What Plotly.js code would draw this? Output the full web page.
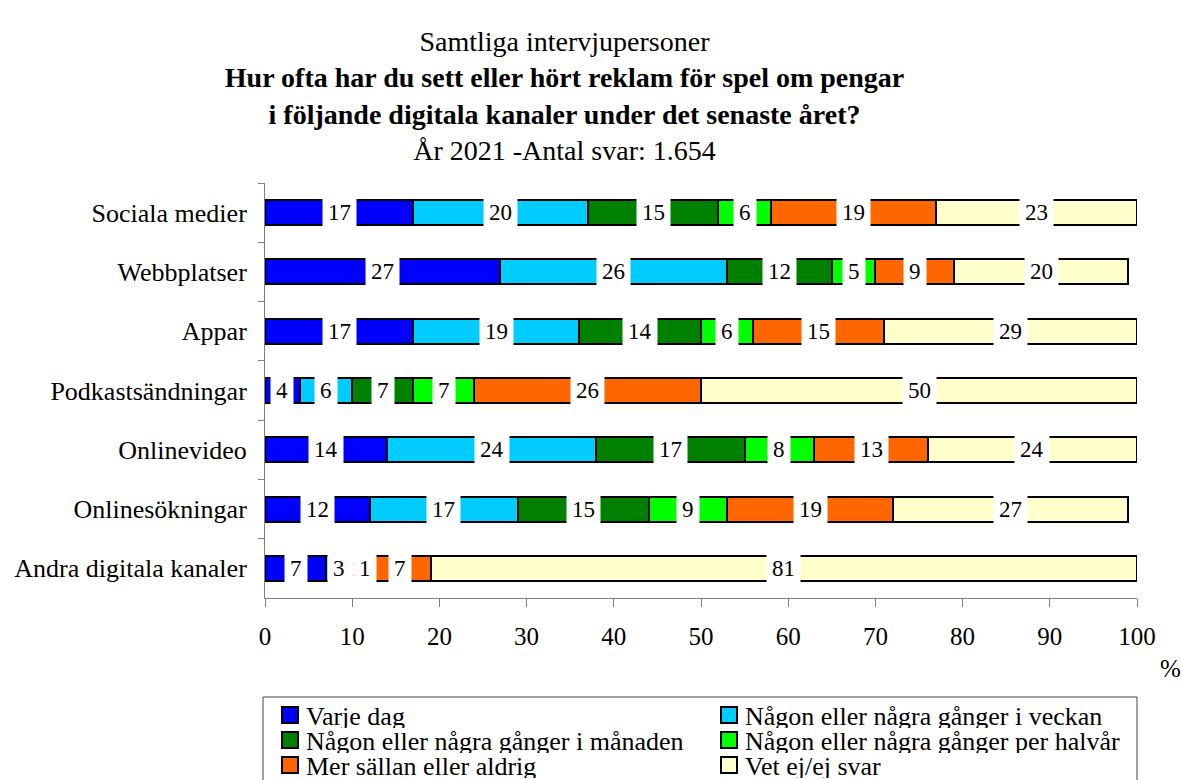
<!DOCTYPE html>
<html>
<head>
<meta charset="utf-8">
<script src="https://cdn.plot.ly/plotly-3.0.1.min.js"></script>
<style>html,body{margin:0;padding:0;background:#fff;}#chart{width:1181px;height:780px;}</style>
</head>
<body>
<div id="chart"></div>
<script>
const categories = ["Sociala medier","Webbplatser","Appar","Podkastsändningar","Onlinevideo","Onlinesökningar","Andra digitala kanaler"];
const seriesNames = ["Varje dag","Någon eller några gånger i veckan","Någon eller några gånger i månaden","Någon eller några gånger per halvår","Mer sällan eller aldrig","Vet ej/ej svar"];
const varjeDag   = [17, 27, 17, 4, 14, 12, 7];
const veckan     = [20, 26, 19, 6, 24, 17, 3];
const manaden    = [15, 12, 14, 7, 17, 15, 1];
const halvar     = [6, 5, 6, 7, 8, 9, 1];
const merSallan  = [19, 9, 15, 26, 13, 19, 7];
const vetEj      = [23, 20, 29, 50, 24, 27, 81];
const xTicks = [0,10,20,30,40,50,60,70,80,90,100];

const seriesValues = [varjeDag, veckan, manaden, halvar, merSallan, vetEj];
const colors = ["#0000FF","#00CCFF","#008000","#00FF00","#FF6600","#FFFFCC"];
const FONT = "Liberation Serif";

// plot-area geometry (pixels) used to place the hand-drawn legend
const M = {l: 265, r: 44, t: 183, b: 182};
const W = 1181, H = 780;
const PW = W - M.l - M.r, PH = H - M.t - M.b;
const px2x = p => (p - M.l) / PW;
const px2y = p => (H - M.b - p) / PH;

const traces = seriesValues.map((vals, i) => ({
  type: "bar",
  orientation: "h",
  name: seriesNames[i],
  x: vals,
  y: categories,
  width: 0.42,
  marker: {color: colors[i], line: {color: "#000", width: 2}},
  showlegend: false,
  hoverinfo: "skip"
}));

const annotations = [];
categories.forEach((c, ci) => {
  let cum = 0;
  seriesValues.forEach((vals) => {
    const v = vals[ci];
    annotations.push({
      x: cum + v / 2, y: c, xref: "x", yref: "y",
      text: String(v), showarrow: false,
      bgcolor: "#fff", borderpad: 5,
      font: {family: FONT, size: 23, color: "#000"}
    });
    cum += v;
  });
});
annotations.push({
  x: px2x(1170), y: px2y(668), xref: "paper", yref: "paper", text: "%",
  xanchor: "center", yanchor: "middle",
  showarrow: false, font: {family: FONT, size: 25, color: "#000"}
});

// legend: 2 columns x 3 rows, box clipped at bottom like the reference
const shapes = [{
  type: "rect", xref: "paper", yref: "paper",
  x0: px2x(263), x1: px2x(1137), y0: px2y(697), y1: px2y(830),
  line: {color: "#404040", width: 1}, fillcolor: "rgba(0,0,0,0)"
}];
const colX = [282, 721];
const rowY = [715, 740, 765];
seriesNames.forEach((name, i) => {
  const cx = colX[i % 2], cy = rowY[Math.floor(i / 2)];
  shapes.push({
    type: "rect", xref: "paper", yref: "paper",
    x0: px2x(cx), x1: px2x(cx + 16), y0: px2y(cy - 8), y1: px2y(cy + 8),
    line: {color: "#000", width: 2}, fillcolor: colors[i]
  });
  annotations.push({
    x: px2x(cx + 22), y: px2y(cy + 1), xref: "paper", yref: "paper",
    xanchor: "left", yanchor: "middle", height: 24,
    text: name, showarrow: false,
    font: {family: FONT, size: 26, color: "#000"}
  });
});

const layout = {
  width: W, height: H,
  paper_bgcolor: "#fff", plot_bgcolor: "#fff",
  margin: {l: M.l, r: M.r, t: M.t, b: M.b, autoexpand: false},
  barmode: "stack",
  font: {family: FONT, size: 22, color: "#000"},
  title: {
    text: "Samtliga intervjupersoner<br><b>Hur ofta har du sett eller hört reklam för spel om pengar</b><br><b>i följande digitala kanaler under det senaste året?</b><br>År 2021 -Antal svar: 1.654",
    font: {family: FONT, size: 28, color: "#000"},
    x: 0.478, xref: "container", xanchor: "center",
    y: 0.935, yref: "container", yanchor: "top"
  },
  xaxis: {
    range: [0, 100], tickvals: xTicks, ticktext: xTicks.map(String),
    showgrid: false, zeroline: false,
    showline: true, linecolor: "#808080", linewidth: 1,
    ticks: "outside", ticklen: 8, tickcolor: "#808080",
    ticklabelstandoff: 8,
    tickfont: {family: FONT, size: 25, color: "#000"},
    fixedrange: true
  },
  yaxis: {
    type: "category", autorange: "reversed",
    showgrid: false, zeroline: false,
    showline: true, linecolor: "#808080", linewidth: 1,
    ticks: "outside", ticklen: 6, tickcolor: "#808080", tickson: "boundaries",
    ticklabelstandoff: 12,
    tickfont: {family: FONT, size: 26, color: "#000"},
    fixedrange: true
  },
  showlegend: false,
  shapes: shapes,
  annotations: annotations
};

Plotly.newPlot("chart", traces, layout, {displayModeBar: false, staticPlot: true});
</script>
</body>
</html>
